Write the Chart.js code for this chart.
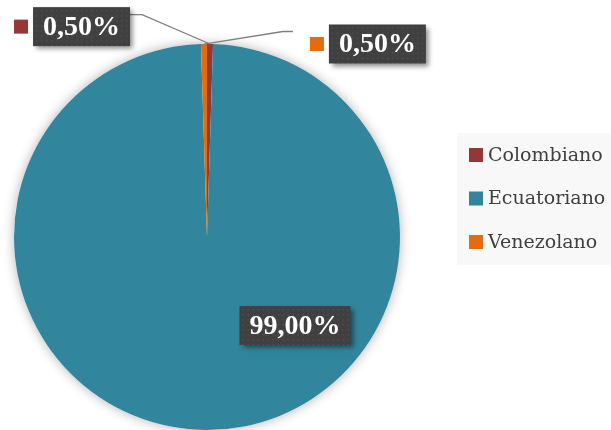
<!DOCTYPE html>
<html lang="es">
<head>
  <meta charset="UTF-8" />
  <title>Nacionalidad</title>
  <script src="https://cdn.jsdelivr.net/npm/chart.js"></script>
  <style>
    html, body { margin: 0; padding: 0; background: #fff; }
    #wrap { width: 611px; height: 430px; position: relative; }
  </style>
</head>
<body>
  <div id="wrap"><canvas id="pie"></canvas></div>

  <script>
    // Datos
    const categories = ['Colombiano', 'Ecuatoriano', 'Venezolano'];
    const shares = [0.5, 99.0, 0.5];
    const labelsText = ['0,50%', '99,00%', '0,50%'];
    const colors = ['#953735', '#31859c', '#e46c0a'];

    // posiciones de las etiquetas (centro de la caja, relativo al centro del pie, en radios)
    const labelBox = [
      { dx: -0.65, dy: -1.09, line: true, marker: true },
      { dx: 0.456, dy: 0.459, line: false, marker: false },
      { dx: 0.883, dy: -1.0, line: true, marker: true }
    ];

    const serif = '"DejaVu Serif", "Liberation Serif", serif';
    const labelFont = 'bold 28px "Liberation Serif", "DejaVu Serif", serif';

    const decor = {
      id: 'decor',
      beforeDatasetsDraw(chart) {
        const ctx = chart.ctx;
        const arc = chart.getDatasetMeta(0).data[0];
        ctx.save();
        ctx.shadowColor = 'rgba(0,0,0,0.3)';
        ctx.shadowBlur = 12;
        ctx.beginPath();
        ctx.arc(arc.x, arc.y, arc.outerRadius, 0, Math.PI * 2);
        ctx.fillStyle = '#fff';
        ctx.fill();
        ctx.restore();
      },
      afterDatasetsDraw(chart) {
        const ctx = chart.ctx;
        const meta = chart.getDatasetMeta(0);
        const cx = meta.data[0].x, cy = meta.data[0].y, r = meta.data[0].outerRadius;

        // leyenda
        const lx = 457, ly = 133;
        ctx.fillStyle = '#f8f8f8';
        ctx.fillRect(lx, ly, 154, 132);
        ctx.font = '19px ' + serif;
        ctx.textBaseline = 'middle';
        categories.forEach((c, i) => {
          const y = ly + 22 + i * 43.5;
          ctx.fillStyle = colors[i];
          ctx.fillRect(lx + 12, y - 7, 14, 14);
          ctx.fillStyle = '#404040';
          ctx.fillText(c, lx + 31, y + 1);
        });

        // etiquetas de datos
        meta.data.forEach((a, i) => {
          const p = labelBox[i];
          const bx = cx + p.dx * r, by = cy + p.dy * r;
          ctx.font = labelFont;
          const tw = ctx.measureText(labelsText[i]).width;
          const w = tw + 20, h = 39;
          const mid = (a.startAngle + a.endAngle) / 2;
          const ex = cx + Math.cos(mid) * r, ey = cy + Math.sin(mid) * r;

          if (p.line) {
            ctx.strokeStyle = '#7f7f7f';
            ctx.lineWidth = 1.3;
            ctx.beginPath();
            if (p.dx < 0) {
              ctx.moveTo(bx + w / 2, by - 12);
              ctx.lineTo(bx + w / 2 + 12, by - 12);
            } else {
              ctx.moveTo(bx - w / 2 - 36, by - 12.5);
              ctx.lineTo(bx - w / 2 - 46, by - 12.5);
            }
            ctx.lineTo(ex, ey);
            ctx.stroke();
          }

          ctx.save();
          ctx.shadowColor = 'rgba(0,0,0,0.45)';
          ctx.shadowBlur = 5;
          ctx.shadowOffsetX = 3;
          ctx.shadowOffsetY = 3;
          ctx.fillStyle = '#404040';
          ctx.fillRect(bx - w / 2, by - h / 2, w, h);
          ctx.restore();

          // textura punteada
          ctx.fillStyle = 'rgba(255,255,255,0.07)';
          for (let x = bx - w / 2 + 3; x < bx + w / 2; x += 5) {
            for (let y = by - h / 2 + 3; y < by + h / 2; y += 5) {
              ctx.fillRect(x, y, 1.5, 1.5);
            }
          }

          if (p.marker) {
            ctx.fillStyle = colors[i];
            ctx.fillRect(bx - w / 2 - 19, by - 7, 14, 14);
          }

          ctx.fillStyle = '#ffffff';
          ctx.textAlign = 'center';
          ctx.textBaseline = 'middle';
          ctx.fillText(labelsText[i], bx, by + 1);
          ctx.textAlign = 'left';
        });
      }
    };

    new Chart(document.getElementById('pie'), {
      type: 'pie',
      data: {
        labels: categories,
        datasets: [{
          data: shares,
          backgroundColor: colors,
          borderWidth: 0
        }]
      },
      options: {
        responsive: true,
        maintainAspectRatio: false,
        animation: false,
        layout: { padding: { left: 14, top: 44, right: 211, bottom: 0 } },
        plugins: {
          legend: { display: false },
          tooltip: { enabled: false }
        }
      },
      plugins: [decor]
    });
  </script>
</body>
</html>
